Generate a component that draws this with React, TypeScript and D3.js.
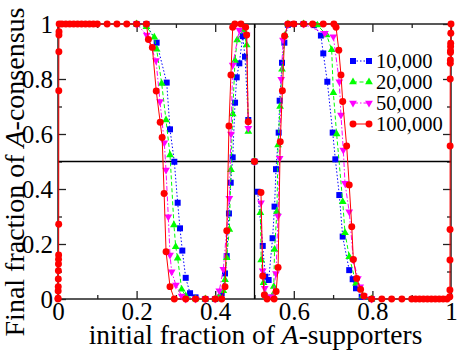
import React, { useRef, useEffect } from 'react';
import * as d3 from 'd3';

// tick values / labels
const xTicks = [0, 0.2, 0.4, 0.6, 0.8, 1];
const yTicks = [0, 0.2, 0.4, 0.6, 0.8, 1];
const minorTicks = [0.1, 0.3, 0.5, 0.7, 0.9];
const tickLabels = ['0', '0.2', '0.4', '0.6', '0.8', '1'];
const legendNames = ['10,000', '20,000', '50,000', '100,000'];

// N = 10,000
const n10k: [number, number][] = [
  [0.2, 1], [0.225, 1], [0.251, 0.932], [0.2766, 0.787], [0.285, 0.617], [0.296, 0.499],
  [0.3045, 0.35], [0.3104, 0.257], [0.3163, 0.176], [0.325, 0.077], [0.336, 0.021],
  [0.35, 0.006], [0.375, 0], [0.4, 0], [0.4165, 0.02], [0.425, 0.093], [0.4293, 0.156],
  [0.435, 0.311], [0.4395, 0.423], [0.4445, 0.515], [0.4505, 0.714], [0.4547, 0.806],
  [0.4614, 0.857], [0.47, 0.956], [0.4758, 0.881], [0.4842, 0.651], [0.5, 0.5],
  [0.508, 0.39], [0.521, 0.193], [0.5275, 0.081], [0.536, 0.069], [0.546, 0.221],
  [0.551, 0.336], [0.5547, 0.472], [0.5615, 0.605], [0.564, 0.721], [0.57, 0.859],
  [0.576, 0.932], [0.585, 0.997], [0.6, 1], [0.625, 1], [0.651, 0.996], [0.669, 0.958],
  [0.675, 0.893], [0.6853, 0.79], [0.699, 0.605], [0.7057, 0.508], [0.7158, 0.378],
  [0.7244, 0.227], [0.741, 0.105], [0.7498, 0.072], [0.7583, 0.039], [0.7727, 0.008],
  [0.798, 0]
];

// N = 20,000
const n20k: [number, number][] = [
  [0.2, 1], [0.225, 0.99], [0.245, 0.952], [0.251, 0.908], [0.2638, 0.784], [0.2748, 0.651],
  [0.285, 0.524], [0.295, 0.269], [0.2995, 0.19], [0.3045, 0.148], [0.3147, 0.035],
  [0.325, 0.011], [0.35, 0], [0.375, 0], [0.4, 0], [0.41, 0.01], [0.4206, 0.03],
  [0.425, 0.07], [0.4293, 0.15], [0.436, 0.253], [0.44, 0.47], [0.4445, 0.673],
  [0.4504, 0.867], [0.456, 0.942], [0.4715, 0.978], [0.48, 0.924], [0.4842, 0.609],
  [0.5, 0.5], [0.515, 0.314], [0.517, 0.142], [0.523, 0.059], [0.532, 0.008],
  [0.545, 0.01], [0.549, 0.045], [0.551, 0.18], [0.557, 0.317], [0.56, 0.56],
  [0.565, 0.7], [0.57, 0.835], [0.578, 0.96], [0.585, 1], [0.625, 1], [0.66, 0.996],
  [0.6836, 0.96], [0.6964, 0.906], [0.7006, 0.75], [0.709, 0.6], [0.7244, 0.354],
  [0.7303, 0.241], [0.741, 0.154], [0.7583, 0.057], [0.7753, 0.011], [0.798, 0]
];

// N = 50,000
const n50k: [number, number][] = [
  [0.2, 1], [0.2257, 0.96], [0.2494, 0.867], [0.2595, 0.718], [0.2705, 0.568],
  [0.2748, 0.469], [0.2807, 0.299], [0.285, 0.16], [0.2893, 0.099], [0.3, 0.051],
  [0.3147, 0.011], [0.325, 0], [0.35, 0], [0.375, 0], [0.4, 0], [0.4104, 0.03],
  [0.4206, 0.108], [0.4359, 0.366], [0.4402, 0.6], [0.4445, 0.851], [0.4614, 0.978],
  [0.48, 0.96], [0.4842, 0.621], [0.5, 0.5], [0.5165, 0.35], [0.5208, 0.103],
  [0.526, 0.039], [0.536, 0.008], [0.546, 0.008], [0.5547, 0.093], [0.5598, 0.302],
  [0.564, 0.512], [0.568, 0.799], [0.5725, 0.942], [0.585, 0.997], [0.625, 1],
  [0.679, 0.966], [0.7006, 0.954], [0.7158, 0.79], [0.72, 0.669], [0.726, 0.542],
  [0.7303, 0.421], [0.741, 0.317], [0.7515, 0.142], [0.763, 0.075], [0.769, 0.045],
  [0.7786, 0.011], [0.798, 0]
];

// N = 100,000
const n100k: [number, number][] = [
  [0, 0], [0.0002, 0.003], [0.0004, 0.029], [0.0006, 0.045], [0.0008, 0.073],
  [0.001, 0.103], [0.0012, 0.127], [0.0014, 0.145], [0.0016, 0.16], [0.0018, 0.272],
  [0.002, 0.757], [0.0022, 0.899], [0.0024, 0.96], [0.0026, 0.972], [0.003, 1],
  [0.01, 1], [0.02, 1], [0.03, 1], [0.04, 1], [0.05, 1], [0.06, 1], [0.07, 1], [0.08, 1],
  [0.09, 1], [0.1, 1], [0.125, 1], [0.15, 1], [0.175, 1], [0.2, 1], [0.225, 1],
  [0.23, 0.944], [0.24, 0.915], [0.25, 0.756], [0.26, 0.643], [0.265, 0.587],
  [0.27, 0.384], [0.275, 0.172], [0.285, 0.045], [0.296, 0], [0.325, 0], [0.35, 0],
  [0.375, 0], [0.4, 0], [0.4165, 0], [0.425, 0.045], [0.4295, 0.248], [0.435, 0.629],
  [0.44, 0.815], [0.4445, 0.988], [0.45, 1], [0.4655, 1], [0.4775, 0.988], [0.48, 0.96],
  [0.484, 0.645], [0.5, 0.5], [0.5165, 0.387], [0.521, 0.084], [0.525, 0.015],
  [0.532, 0], [0.55, 0], [0.555, 0.027], [0.56, 0.115], [0.5655, 0.572], [0.571, 0.757],
  [0.5765, 0.956], [0.585, 1], [0.6, 1], [0.625, 1], [0.648, 1], [0.675, 1], [0.702, 1],
  [0.7075, 0.988], [0.7145, 0.905], [0.72, 0.815], [0.7245, 0.718], [0.7345, 0.556],
  [0.741, 0.415], [0.7475, 0.263], [0.7515, 0.144], [0.76, 0.075], [0.77, 0.035],
  [0.7785, 0.011], [0.798, 0], [0.824, 0], [0.849, 0], [0.875, 0], [0.9, 0], [0.91, 0],
  [0.92, 0], [0.93, 0], [0.94, 0], [0.95, 0], [0.96, 0], [0.97, 0], [0.98, 0], [0.99, 0],
  [0.997, 0.008], [0.9972, 0.033], [0.9974, 0.142], [0.9976, 0.253], [0.9978, 0.556],
  [0.998, 0.8], [0.9982, 0.857], [0.9984, 0.869], [0.9986, 0.896], [0.9988, 0.903],
  [0.999, 0.918], [0.9992, 0.93], [0.9995, 0.966], [1, 1]
];

const font = '"Liberation Serif", "Times New Roman", serif';

export default function App() {
  const ref = useRef<SVGSVGElement>(null);

  useEffect(() => {
    const svg = d3.select(ref.current);
    svg.selectAll('*').remove();

    const width = 457;
    const height = 350;
    const margin = { top: 24, right: 6, bottom: 51, left: 58 };

    const x = d3.scaleLinear().domain([0, 1]).range([margin.left, width - margin.right]);
    const y = d3.scaleLinear().domain([0, 1]).range([height - margin.bottom, margin.top]);

    const series = [
      { data: n10k, color: '#0000ff', dash: '1.5,2', symbol: d3.symbolSquare, size: 36, rot: 0 },
      { data: n20k, color: '#00ff00', dash: '4,2.5', symbol: d3.symbolTriangle, size: 26, rot: 0 },
      { data: n50k, color: '#ff00ff', dash: '5,2,1.5,2', symbol: d3.symbolTriangle, size: 26, rot: 180 },
      { data: n100k, color: '#ff0000', dash: null, symbol: d3.symbolCircle, size: 38, rot: 0 }
    ];

    // frame
    svg.append('rect')
      .attr('x', x(0)).attr('y', y(1))
      .attr('width', x(1) - x(0)).attr('height', y(0) - y(1))
      .attr('fill', 'none').attr('stroke', '#222').attr('stroke-width', 1.5);

    const fmt = (d: any) => tickLabels[xTicks.indexOf(d)];

    // bottom + top axes (inward ticks)
    const bottom = svg.append('g').attr('transform', `translate(0,${y(0)})`)
      .call(d3.axisBottom(x).tickValues(xTicks).tickSize(-8).tickPadding(3).tickFormat(fmt));
    svg.append('g').attr('transform', `translate(0,${y(0)})`)
      .call(d3.axisBottom(x).tickValues(minorTicks).tickSize(-4).tickFormat(() => ''));
    svg.append('g').attr('transform', `translate(0,${y(1)})`)
      .call(d3.axisTop(x).tickValues(xTicks).tickSize(-8).tickFormat(() => ''));
    svg.append('g').attr('transform', `translate(0,${y(1)})`)
      .call(d3.axisTop(x).tickValues(minorTicks).tickSize(-4).tickFormat(() => ''));

    // left + right axes
    const left = svg.append('g').attr('transform', `translate(${x(0)},0)`)
      .call(d3.axisLeft(y).tickValues(yTicks).tickSize(-8).tickPadding(5).tickFormat(fmt));
    svg.append('g').attr('transform', `translate(${x(0)},0)`)
      .call(d3.axisLeft(y).tickValues(minorTicks).tickSize(-4).tickFormat(() => ''));
    svg.append('g').attr('transform', `translate(${x(1)},0)`)
      .call(d3.axisRight(y).tickValues(yTicks).tickSize(-8).tickFormat(() => ''));
    svg.append('g').attr('transform', `translate(${x(1)},0)`)
      .call(d3.axisRight(y).tickValues(minorTicks).tickSize(-4).tickFormat(() => ''));

    svg.selectAll('.domain').remove();
    svg.selectAll('.tick line').attr('stroke', '#222').attr('stroke-width', 1.3);
    svg.selectAll('.tick text')
      .attr('fill', '#000')
      .attr('font-family', font)
      .attr('font-size', 25);
    bottom.selectAll('text').attr('dy', '0.7em');
    left.selectAll('text').attr('dy', '0.33em');

    // guide lines at 0.5
    svg.append('line')
      .attr('x1', x(0)).attr('x2', x(1)).attr('y1', y(0.5)).attr('y2', y(0.5))
      .attr('stroke', '#000').attr('stroke-width', 1.3);
    svg.append('line')
      .attr('x1', x(0.5)).attr('x2', x(0.5)).attr('y1', y(0)).attr('y2', y(1))
      .attr('stroke', '#000').attr('stroke-width', 1.3);

    // the point at exactly 0.5 is drawn as a marker only, the curve breaks there
    const line = d3.line<[number, number]>()
      .defined(d => d[0] !== 0.5)
      .x(d => x(d[0]))
      .y(d => y(d[1]));

    series.forEach(s => {
      svg.append('path')
        .datum(s.data)
        .attr('fill', 'none')
        .attr('stroke', s.color)
        .attr('stroke-width', 1)
        .attr('stroke-dasharray', s.dash)
        .attr('d', line);

      const sym = d3.symbol().type(s.symbol).size(s.size);
      svg.append('g')
        .selectAll('path')
        .data(s.data)
        .join('path')
        .attr('d', sym)
        .attr('fill', s.color)
        .attr('transform', d => `translate(${x(d[0])},${y(d[1])}) rotate(${s.rot})`);
    });

    // legend
    const lg = svg.append('g');
    series.forEach((s, i) => {
      const ly = 61 + i * 21;
      lg.append('line')
        .attr('x1', 353).attr('x2', 369).attr('y1', ly).attr('y2', ly)
        .attr('stroke', s.color).attr('stroke-width', 1)
        .attr('stroke-dasharray', s.dash);
      const sym = d3.symbol().type(s.symbol).size(s.size);
      [353, 369].forEach(px => {
        lg.append('path')
          .attr('d', sym)
          .attr('fill', s.color)
          .attr('transform', `translate(${px},${ly}) rotate(${s.rot})`);
      });
      lg.append('text')
        .attr('x', 376).attr('y', ly + 7)
        .attr('font-family', font).attr('font-size', 20.5)
        .text(legendNames[i]);
    });

    // axis titles
    const xt = svg.append('text')
      .attr('x', (x(0) + x(1)) / 2 + 1)
      .attr('y', 344)
      .attr('text-anchor', 'middle')
      .attr('font-family', font).attr('font-size', 27.5);
    xt.append('tspan').text('initial fraction of ');
    xt.append('tspan').attr('font-style', 'italic').text('A');
    xt.append('tspan').text('-supporters');

    const yt = svg.append('text')
      .attr('transform', `translate(24,172) rotate(-90)`)
      .attr('text-anchor', 'middle')
      .attr('font-family', font).attr('font-size', 28);
    yt.append('tspan').text('Final fraction of ');
    yt.append('tspan').attr('font-style', 'italic').text('A');
    yt.append('tspan').text('-consensus');
  }, []);

  return (
    <div style={{ position: 'absolute', left: 0, top: 0 }}>
      <svg ref={ref} width={457} height={350} style={{ display: 'block', background: '#fff' }} />
    </div>
  );
}
